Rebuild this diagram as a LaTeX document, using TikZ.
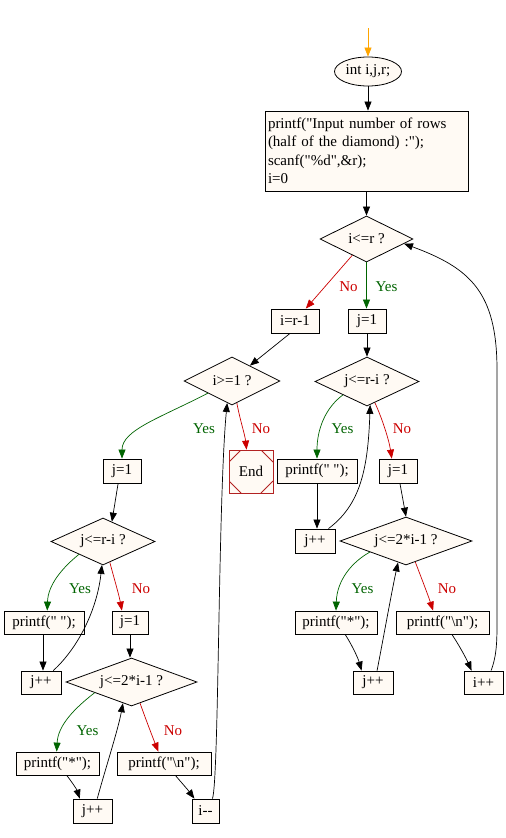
\documentclass[tikz,border=0pt]{standalone}
\usepackage{fontspec}
\setmainfont{Liberation Serif}[Ligatures=TeXOff]
\usetikzlibrary{shapes.geometric,arrows.meta,calc}
\definecolor{nodefill}{HTML}{FFFAF4}
\definecolor{yesgreen}{HTML}{006400}
\definecolor{nored}{HTML}{CC0000}
\definecolor{endred}{HTML}{B22222}
\definecolor{startorange}{HTML}{FFA500}
\newcommand{\flfont}{\fontsize{15}{18.5}\selectfont}
\begin{document}
\begin{tikzpicture}[x=1pt,y=-1pt,
  box/.style={draw, fill=nodefill, line width=0.8pt, inner sep=0pt, minimum height=24pt, font=\flfont},
  dia/.style={diamond, draw, fill=nodefill, line width=0.8pt, inner sep=0pt, font=\flfont},
  edge/.style={-{Triangle[length=9pt,width=7pt]}, line width=0.7pt},
  yesedge/.style={edge, yesgreen},
  noedge/.style={edge, nored},
  lab/.style={font=\flfont, inner sep=0pt}]
\fill[white] (0,0) rectangle (506,838);
\useasboundingbox (0,0) rectangle (506,838);

% top
\coordinate (start) at (368,28);
\node[ellipse, draw, fill=nodefill, line width=0.8pt, inner sep=0pt, minimum width=67pt, minimum height=29pt, font=\flfont] (ell) at (368,71.5) {int i,j,r;};
\node[box, text width=197pt, align=left, inner sep=3pt, minimum height=80pt] (b1) at (366.5,151)
  {printf("Input number of rows\\(half of the diamond) :");\\scanf("\%d",\&r);\\i=0};
\node[dia, minimum width=93pt, minimum height=46pt] (d1) at (366.5,239) {\makebox[0pt]{i<=r ?}};
\node[box, minimum width=48pt] (bR1) at (295,321) {i=r-1};
\node[box, minimum width=38pt] (bJ1) at (367,321) {j=1};
\node[dia, minimum width=96pt, minimum height=48pt] (d2) at (232,381) {\makebox[0pt]{i>=1 ?}};
\node[box, draw=endred, minimum width=44pt, minimum height=43pt,
  path picture={
    \draw[endred, line width=0.8pt] ([yshift=-12pt]path picture bounding box.north west) -- ([xshift=12pt]path picture bounding box.north west);
    \draw[endred, line width=0.8pt] ([yshift=-12pt]path picture bounding box.north east) -- ([xshift=-12pt]path picture bounding box.north east);
    \draw[endred, line width=0.8pt] ([yshift=12pt]path picture bounding box.south west) -- ([xshift=12pt]path picture bounding box.south west);
    \draw[endred, line width=0.8pt] ([yshift=12pt]path picture bounding box.south east) -- ([xshift=-12pt]path picture bounding box.south east);
  }] (end) at (251,471.5) {End};

% left column
\node[box, minimum width=38pt] (lj1) at (122,471) {j=1};
\node[dia, minimum width=104pt, minimum height=47pt] (ld1) at (103,541.5) {\makebox[0pt]{j<=r-i ?}};
\node[box, minimum width=80pt, minimum height=23pt] (lp1) at (44,622.5) {printf(" ");};
\node[box, minimum width=36pt, minimum height=23pt] (lj2) at (130,622.5) {j=1};
\node[box, minimum width=40pt, minimum height=23pt] (ljpp1) at (41,682.5) {j++};
\node[dia, minimum width=131pt, minimum height=48pt] (ld2) at (131.5,682) {\makebox[0pt]{j<=2*i-1 ?}};
\node[box, minimum width=83pt, minimum height=23pt] (lp2) at (57.5,763.5) {printf("*");};
\node[box, minimum width=94pt, minimum height=23pt] (lp3) at (164,763.5) {printf("\textbackslash n");};
\node[box, minimum width=39pt] (ljpp2) at (92.5,811) {j++};
\node[box, minimum width=27pt] (imm) at (205.5,811) {i-{}-};

% right column
\node[dia, minimum width=104pt, minimum height=49pt] (rd1) at (367,381.5) {\makebox[0pt]{j<=r-i ?}};
\node[box, minimum width=80pt] (rp1) at (317,471) {printf(" ");};
\node[box, minimum width=38pt] (rj2) at (398,471) {j=1};
\node[box, minimum width=40pt] (rjpp1) at (315,541) {j++};
\node[dia, minimum width=132pt, minimum height=48pt] (rd2) at (406,541) {\makebox[0pt]{j<=2*i-1 ?}};
\node[box, minimum width=82pt, minimum height=23pt] (rp2) at (336,622.5) {printf("*");};
\node[box, minimum width=93pt, minimum height=23pt] (rp3) at (442.5,622.5) {printf("\textbackslash n");};
\node[box, minimum width=40pt, minimum height=23pt] (rjpp2) at (373,682.5) {j++};
\node[box, minimum width=39pt, minimum height=23pt] (ipp) at (483.5,682.5) {i++};

% top edges
\draw[edge, startorange] (start) -- (ell.north);
\draw[edge] (ell.south) -- (b1.north -| ell.south);
\draw[edge] (b1.south -| d1.north) -- (d1.north);
\draw[noedge] (d1) -- (bR1);
\node[lab, nored] at (348.5,287) {No};
\draw[yesedge] (d1.south) -- (d1.south |- bJ1.north);
\node[lab, yesgreen] at (386.5,287) {Yes};
\draw[edge] ([xshift=-5pt]bR1.south) -- ($(d2.north)!0.37!(d2.east)$);
\draw[yesedge] ($(d2.west)!0.5!(d2.south)$) .. controls (160,418) and (122,430) .. (lj1.north);
\node[lab, yesgreen] at (204,429) {Yes};
\draw[noedge] ($(d2.south)!0.1!(d2.east)$) .. controls (240,420) and (245,435) .. ($(end.north west)!0.4!(end.north east)$);
\node[lab, nored] at (261,429) {No};

% left column edges
\draw[edge] ($(lj1.south west)!0.4!(lj1.south east)$) -- ($(ld1.north)!0.17!(ld1.east)$);
\draw[yesedge] ($(ld1.west)!0.54!(ld1.south)$) .. controls (62,568) and (48,585) .. ($(lp1.north west)!0.54!(lp1.north east)$);
\node[lab, yesgreen] at (80,588.5) {Yes};
\draw[noedge] ($(ld1.south)!0.13!(ld1.east)$) .. controls (114,578) and (119,595) .. ($(lj2.north west)!0.28!(lj2.north east)$);
\node[lab, nored] at (141,588.5) {No};
\draw[edge] ([xshift=-1pt]lp1.south) -- ([xshift=-1pt]lp1.south |- ljpp1.north);
\draw[edge] ($(ljpp1.north west)!0.8!(ljpp1.north east)$) .. controls (78,648) and (97,610) .. ($(ld1.west)!0.98!(ld1.south)$);
\draw[edge] (lj2.south) -- (lj2.south |- ld2.north);
\draw[yesedge] ($(ld2.west)!0.44!(ld2.south)$) .. controls (75,708) and (58,725) .. ($(lp2.north west)!0.49!(lp2.north east)$);
\node[lab, yesgreen] at (87.5,731) {Yes};
\draw[noedge] ($(ld2.south)!0.13!(ld2.east)$) .. controls (146,720) and (153,738) .. ($(lp3.north west)!0.44!(lp3.north east)$);
\node[lab, nored] at (173,731) {No};
\draw[edge] ($(lp2.south west)!0.61!(lp2.south east)$) .. controls (72,782) and (77,790) .. ($(ljpp2.north west)!0.18!(ljpp2.north east)$);
\draw[edge] ($(ljpp2.north west)!0.62!(ljpp2.north east)$) .. controls (105,770) and (118,730) .. ($(ld2.west)!0.87!(ld2.south)$);
\draw[edge] ($(lp3.south west)!0.62!(lp3.south east)$) .. controls (181,782) and (188,790) .. ($(imm.north west)!0.1!(imm.north east)$);
\draw[edge] ($(imm.north west)!0.75!(imm.north east)$) .. controls (219,780) and (218,500) .. ($(d2.west)!0.9!(d2.south)$);

% right column edges
\draw[edge] (bJ1.south) -- (bJ1.south |- rd1.north);
\draw[yesedge] ($(rd1.west)!0.54!(rd1.south)$) .. controls (325,408) and (317,430) .. (rp1.north);
\node[lab, yesgreen] at (342.5,429) {Yes};
\draw[noedge] ($(rd1.south)!0.15!(rd1.east)$) .. controls (382,418) and (389,440) .. ($(rj2.north west)!0.34!(rj2.north east)$);
\node[lab, nored] at (402,429) {No};
\draw[edge] (rp1.south) -- (rp1.south |- rjpp1.north);
\draw[edge] ($(rjpp1.north west)!0.83!(rjpp1.north east)$) .. controls (360,505) and (368,470) .. ($(rd1.south)!0.06!(rd1.east)$);
\draw[edge] ($(rj2.south west)!0.55!(rj2.south east)$) -- (rd2.north);
\draw[yesedge] ($(rd2.west)!0.455!(rd2.south)$) .. controls (352,562) and (337,580) .. (rp2.north);
\node[lab, yesgreen] at (362.5,589) {Yes};
\draw[noedge] ($(rd2.south)!0.14!(rd2.east)$) .. controls (421,577) and (428,595) .. ($(rp3.north west)!0.4!(rp3.north east)$);
\node[lab, nored] at (447,589) {No};
\draw[edge] ($(rp2.south west)!0.61!(rp2.south east)$) .. controls (352,645) and (358,658) .. ($(rjpp2.north west)!0.22!(rjpp2.north east)$);
\draw[edge] ($(rjpp2.north west)!0.6!(rjpp2.north east)$) .. controls (383,640) and (392,590) .. ($(rd2.west)!0.88!(rd2.south)$);
\draw[edge] ($(rp3.south west)!0.6!(rp3.south east)$) .. controls (459,645) and (466,658) .. ($(ipp.north west)!0.2!(ipp.north east)$);
\draw[edge] ($(ipp.north west)!0.69!(ipp.north east)$) .. controls (497,655) and (497,640) .. (497,620) -- (497,370) .. controls (497,292) and (470,268) .. ($(d1.east)!0.2!(d1.south)$);
\end{tikzpicture}
\end{document}
